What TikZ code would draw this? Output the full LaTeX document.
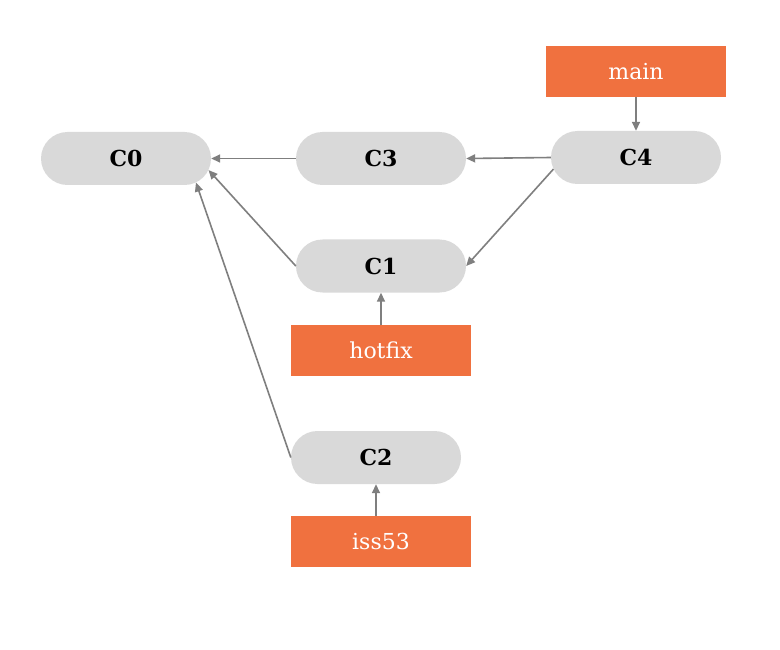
\documentclass[tikz,border=0pt]{standalone}
\usepackage{fontspec}
\setmainfont{DejaVu Serif}
\usetikzlibrary{shapes.misc,arrows.meta}
\definecolor{commitgray}{HTML}{D9D9D9}
\definecolor{branchorange}{HTML}{F0713F}
\definecolor{linkgray}{HTML}{7F7F7F}
\begin{document}
\begin{tikzpicture}[x=1pt,y=-1pt,
  commit/.style={rounded rectangle, fill=commitgray, draw=none,
    minimum width=170pt, minimum height=53pt, inner sep=0pt,
    font=\fontsize{22}{26}\selectfont\bfseries, text=black},
  branch/.style={rectangle, fill=branchorange, draw=none,
    minimum width=180pt, minimum height=51pt, inner sep=0pt,
    font=\fontsize{22}{26}\selectfont, text=white},
  link/.style={draw=linkgray, line width=1.6pt,
    -{Triangle[length=9pt,width=8pt]}}]
\useasboundingbox (0,0) rectangle (780,650);
\fill[white] (0,0) rectangle (780,650);

% commits
\node[commit] (c0) at (126,158.5) {C0};
\node[commit] (c3) at (381,158.5) {C3};
\node[commit] (c4) at (636,157.5) {C4};
\node[commit] (c1) at (381,266) {C1};
\node[commit] (c2) at (376,457.5) {C2};

% branch pointers
\node[branch] (main) at (636,71.5) {main};
\node[branch] (hotfix) at (381,350.5) {hotfix};
\node[branch] (iss53) at (381,541.5) {iss53};

% parent links
\draw[link] (c3.west) -- (c0.east);
\draw[link] (c4.west) -- (c3.east);
\draw[link] (c4.188) -- (c1.east);
\draw[link] (c1.west) -- (c0.-8);
\draw[link] (c2.west) -- (c0.-19);

% branch references
\draw[link] (main.south) -- (c4.north);
\draw[link] (hotfix.north) -- (c1.south);
\draw[link] (iss53.north -| c2.south) -- (c2.south);
\end{tikzpicture}
\end{document}
